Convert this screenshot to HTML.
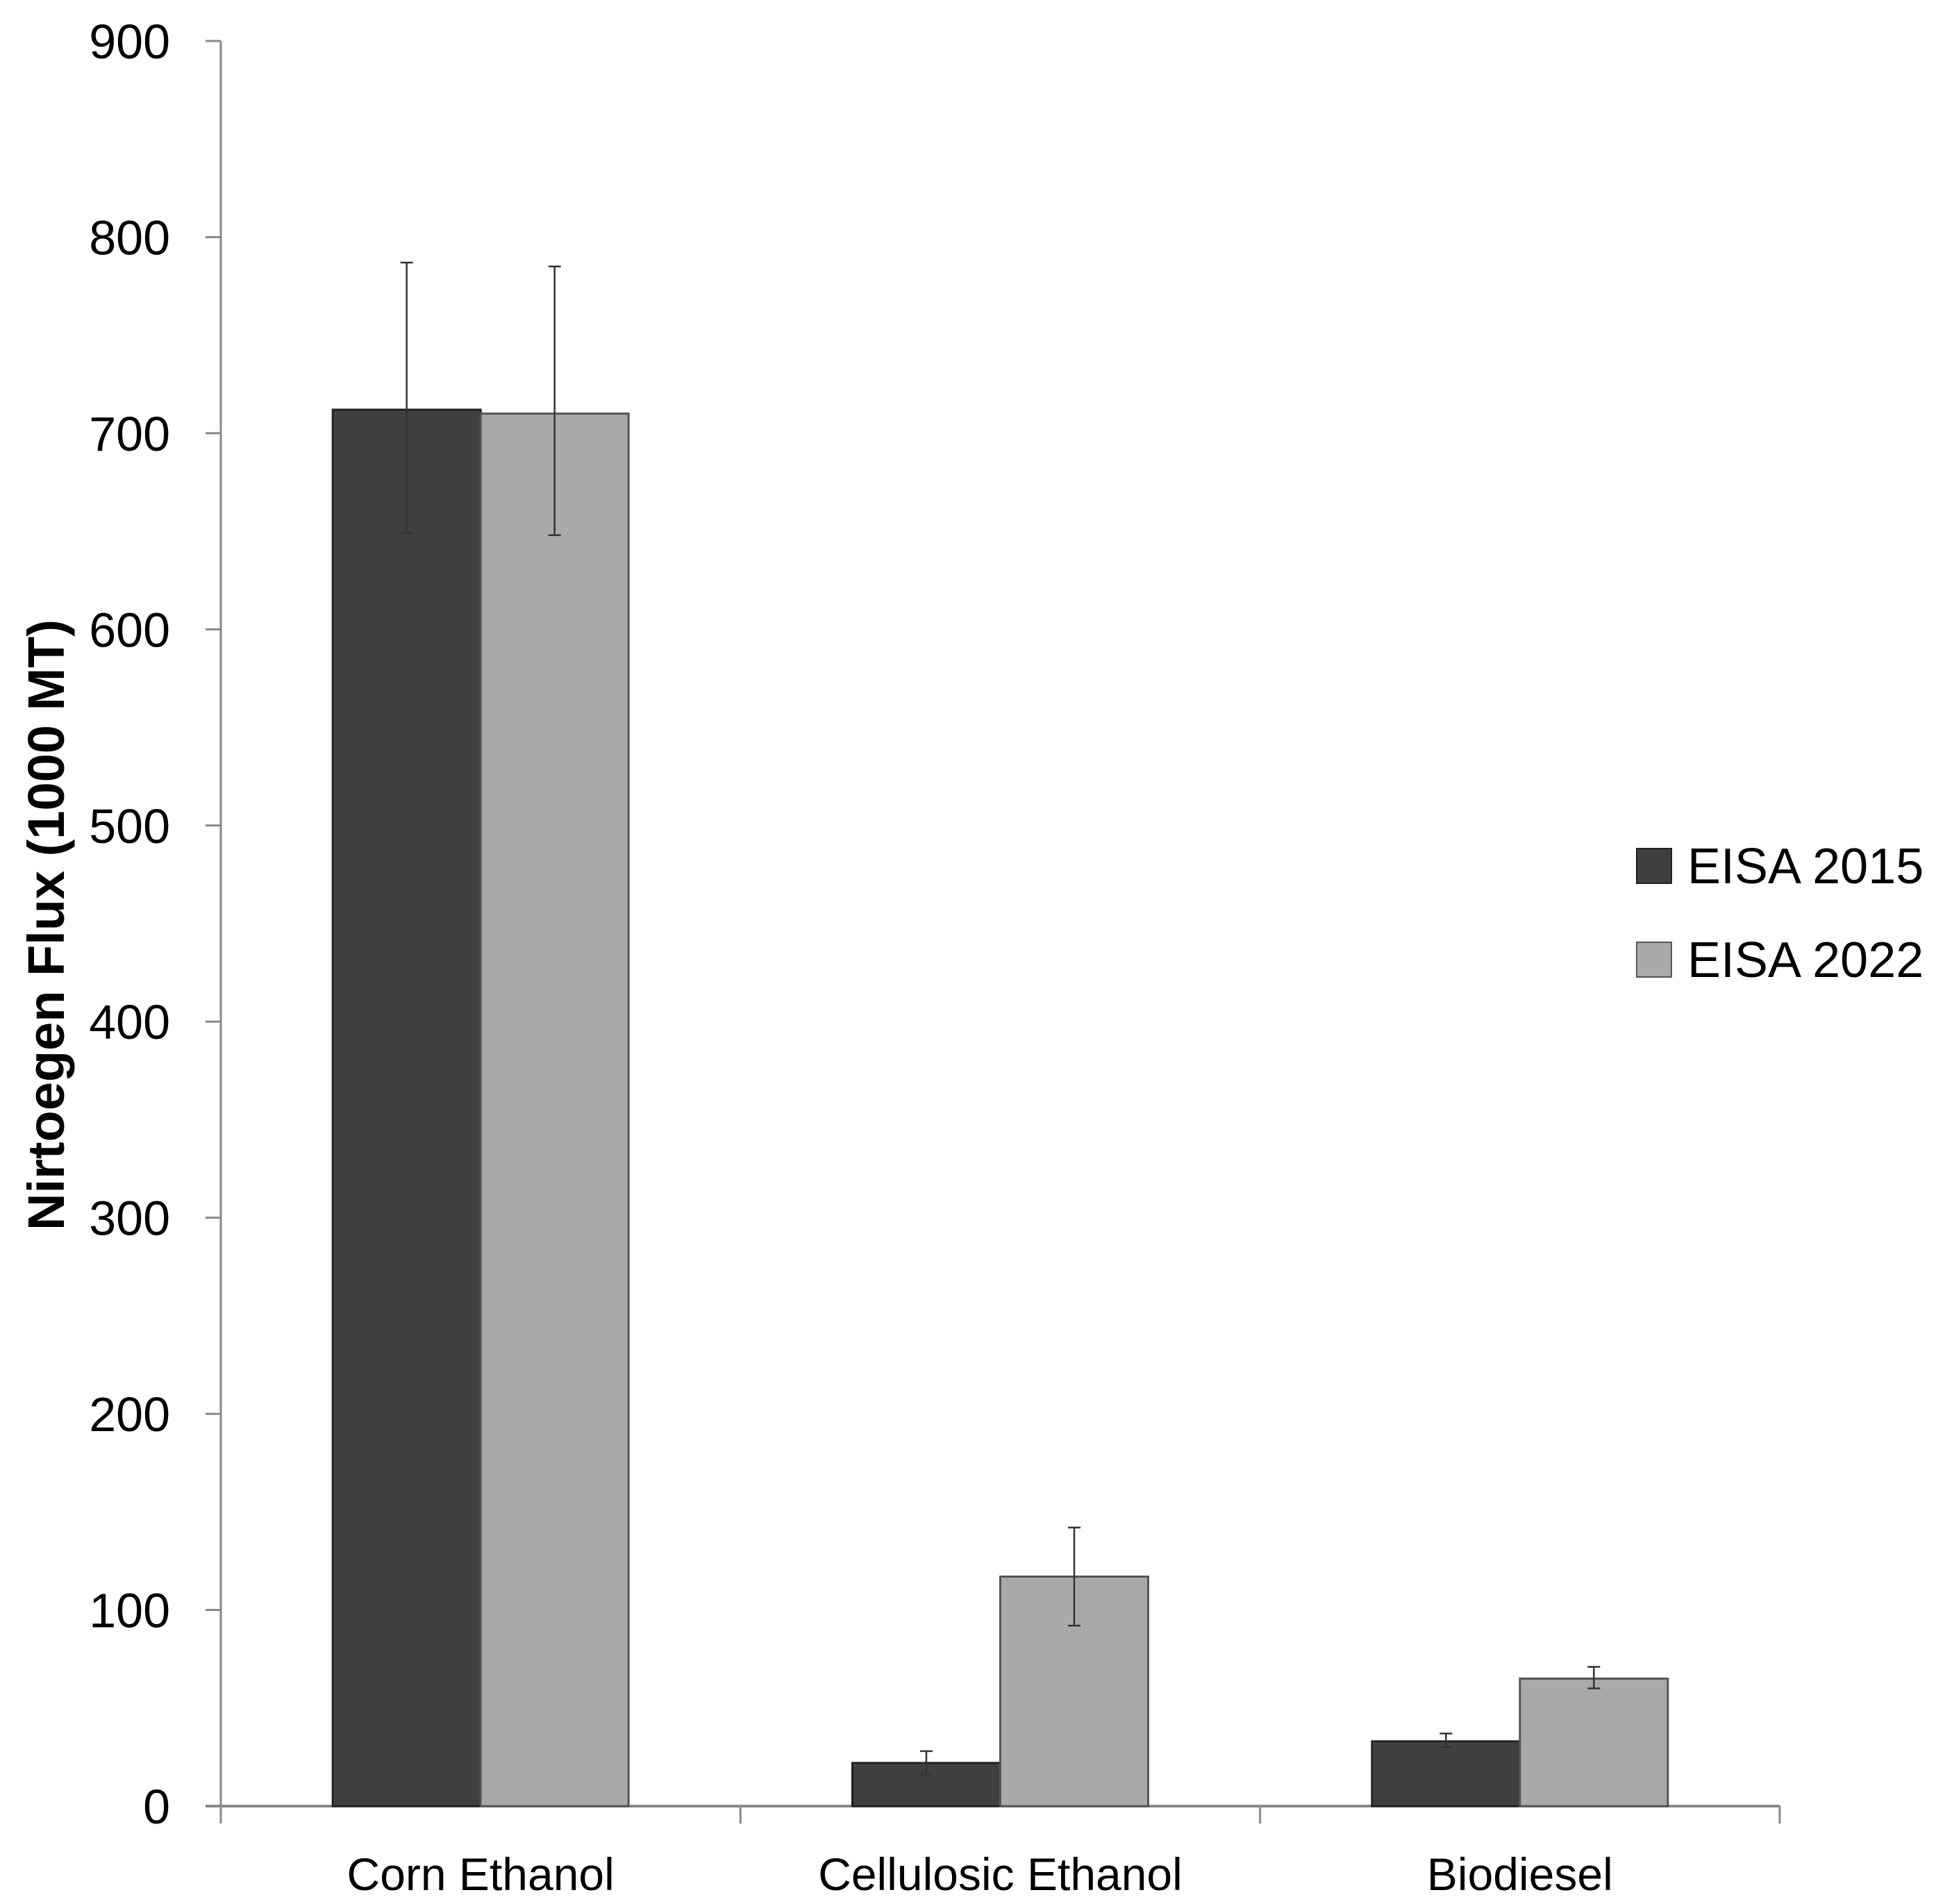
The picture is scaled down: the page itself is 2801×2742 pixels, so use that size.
<!DOCTYPE html>
<html><head><meta charset="utf-8"><style>
html,body{margin:0;padding:0;background:#fff;}
svg{display:block;font-family:"Liberation Sans","DejaVu Sans",sans-serif;}
</style></head><body>
<svg id="chart" width="2801" height="2742" viewBox="0 0 2801 2742" xmlns="http://www.w3.org/2000/svg">
<g id="axes"></g><g id="bars"></g><g id="errs"></g>
<text transform="translate(92,1332) rotate(-90)" text-anchor="middle" font-size="74" font-weight="bold" fill="#000">Nirtoegen Flux (1000 MT)</text>
<g>
<rect x="2357" y="1222" width="50" height="50" fill="#404040" stroke="#222" stroke-width="2"/>
<text x="2430" y="1272" font-size="72" fill="#000">EISA 2015</text>
<rect x="2357" y="1357" width="50" height="50" fill="#a9a9a9" stroke="#555" stroke-width="2"/>
<text x="2430" y="1407" font-size="72" fill="#000">EISA 2022</text>
</g>
</svg>
<script>
const categories=["Corn Ethanol","Cellulosic Ethanol","Biodiesel"];
const seriesNames=["EISA 2015","EISA 2022"];
const values2015=[712,22,33];
const values2022=[710,117,65];
const errLow2015=[649,16,30];
const errHigh2015=[787,28,37];
const errLow2022=[648,92,60];
const errHigh2022=[785,142,71];
const yTicks=[0,100,200,300,400,500,600,700,800,900];
const NS="http://www.w3.org/2000/svg";
const X0=318,X1=2563,Y0=2601,Y1=59,YMAX=900;
function y(v){return Y0-(v/YMAX)*(Y0-Y1);}
const catW=(X1-X0)/categories.length;
function xCat(i){return X0+catW*i;}
const barW=213;
function mk(tag,attrs,parent){const e=document.createElementNS(NS,tag);for(const k in attrs)e.setAttribute(k,attrs[k]);document.getElementById(parent).appendChild(e);return e;}
let a=mk('line',{x1:X0,y1:Y1,x2:X0,y2:Y0,stroke:'#888','stroke-width':3},'axes');


a=mk('line',{x1:X0-22,y1:Y0,x2:X1,y2:Y0,stroke:'#888','stroke-width':4},'axes');


yTicks.forEach(t=>{
 const l=mk('line',{x1:X0-22,y1:y(t),x2:X0,y2:y(t),stroke:'#888','stroke-width':3},'axes');
 
 
 const tx=mk('text',{x:245,y:y(t)+25,'text-anchor':'end','font-size':70,fill:'#000'},'axes');
 tx.textContent=t;
 
 
});
for(let i=0;i<=categories.length;i++){
 const l=mk('line',{x1:xCat(i),y1:Y0,x2:xCat(i),y2:Y0+25,stroke:'#888','stroke-width':3},'axes');
 
 
}
categories.forEach((c,i)=>{
 const cx=xCat(i)+catW/2;
 const tx=mk('text',{x:cx,y:2722,'text-anchor':'middle','font-size':66,fill:'#000'},'axes');
 tx.textContent=c;
 
 
 [[values2015,errLow2015,errHigh2015,'#404040','#222',-1],[values2022,errLow2022,errHigh2022,'#a9a9a9','#555',0]].forEach(([vals,lo,hi,fill,st,off],s)=>{
  const bx=cx+off*barW;
  const r=mk('rect',{x:bx,y:y(vals[i]),width:barW,height:Y0-y(vals[i]),fill:fill,stroke:st,'stroke-width':3},'bars');
  
  
  const ex=bx+barW/2;
  const g=mk('g',{stroke:'#333','stroke-width':2.5},'errs');
  
  
  [[ex,y(lo[i]),ex,y(hi[i])],[ex-9,y(lo[i]),ex+9,y(lo[i])],[ex-9,y(hi[i]),ex+9,y(hi[i])]].forEach(p=>{
   const l=document.createElementNS(NS,'line');
   l.setAttribute('x1',p[0]);l.setAttribute('y1',p[1]);l.setAttribute('x2',p[2]);l.setAttribute('y2',p[3]);
   g.appendChild(l);
  });
 });
});
</script>
</body></html>
